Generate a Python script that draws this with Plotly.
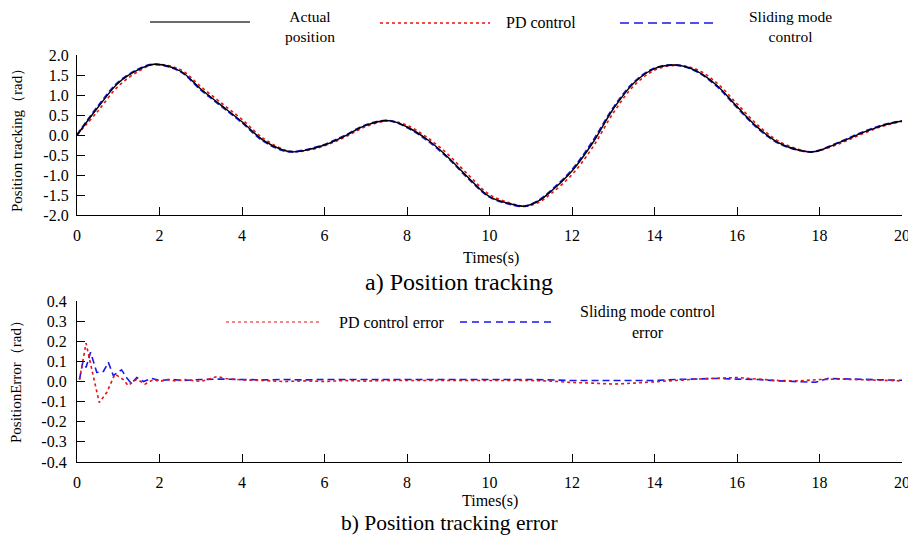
import plotly.graph_objects as go

# ---------------- data ----------------
time_s = [0, 0.5, 1.0, 1.5, 1.88, 2.5, 3.0, 3.5, 4.0, 4.5, 5.0, 5.2, 5.5, 6.0, 6.5,
          7.0, 7.55, 8.0, 8.5, 9.0, 9.5, 10.0, 10.5, 10.85, 11.2, 11.5, 12.0, 12.5,
          13.0, 13.5, 14.0, 14.5, 15.0, 15.5, 16.0, 16.5, 17.0, 17.5, 17.85, 18.5,
          19.0, 19.5, 20.0]
actual_pos = [0.0, 0.68, 1.30, 1.64, 1.77, 1.60, 1.15, 0.74, 0.33, -0.12, -0.38, -0.42,
              -0.39, -0.25, -0.02, 0.24, 0.36, 0.20, -0.12, -0.56, -1.08, -1.54, -1.72,
              -1.78, -1.64, -1.40, -0.90, -0.20, 0.65, 1.30, 1.66, 1.75, 1.61, 1.25,
              0.71, 0.19, -0.19, -0.38, -0.42, -0.18, 0.04, 0.23, 0.35]
pd_pos = [0.0, 0.59, 1.22, 1.60, 1.76, 1.64, 1.21, 0.80, 0.39, -0.07, -0.36, -0.41,
          -0.40, -0.27, -0.05, 0.21, 0.35, 0.24, -0.07, -0.49, -1.01, -1.49, -1.70,
          -1.78, -1.68, -1.46, -0.99, -0.31, 0.55, 1.23, 1.62, 1.74, 1.65, 1.31,
          0.78, 0.25, -0.15, -0.36, -0.42, -0.21, 0.01, 0.21, 0.34]
smc_pos = [0.0, 0.71, 1.32, 1.65, 1.77, 1.59, 1.13, 0.72, 0.31, -0.14, -0.39, -0.42,
           -0.38, -0.24, -0.01, 0.25, 0.36, 0.19, -0.14, -0.58, -1.10, -1.55, -1.73,
           -1.78, -1.63, -1.38, -0.87, -0.16, 0.68, 1.32, 1.67, 1.75, 1.60, 1.23,
           0.69, 0.17, -0.20, -0.38, -0.42, -0.17, 0.05, 0.24, 0.35]

t_pd_err = [0.06, 0.22, 0.38, 0.54, 0.72, 0.92, 1.12, 1.24, 1.45, 1.65,
            1.86, 2.0, 2.2, 2.4, 2.6, 2.8, 3.0, 3.2, 3.4, 3.6,
            3.8, 4.0, 4.5, 5.0, 5.5, 6.0, 6.5, 7.0, 7.5, 8.0,
            8.5, 9.0, 9.5, 10.0, 10.5, 11.0, 11.5, 12.0, 12.5, 13.0,
            13.5, 14.0, 14.5, 15.0, 15.5, 16.0, 16.5, 17.0, 17.5, 18.0,
            18.5, 19.0, 19.5, 20.0]
pd_err = [0.01, 0.19, 0.04, -0.105, -0.055, 0.037, 0.01, -0.02, 0.012, -0.013,
          0.01, 0.0, 0.01, 0.002, 0.01, 0.005, 0.0, 0.012, 0.025, 0.015,
          0.01, 0.008, 0.005, 0.0, 0.003, 0.0, 0.005, 0.002, 0.005, 0.005,
          0.008, 0.005, 0.008, 0.005, 0.008, 0.005, 0.002, -0.005, -0.008, -0.013,
          -0.008, -0.003, 0.005, 0.012, 0.015, 0.02, 0.012, 0.005, 0.003, 0.01,
          0.012, 0.008, 0.005, 0.003]

t_smc_err = [0.06, 0.14, 0.22, 0.33, 0.48, 0.64, 0.76, 0.88, 1.08, 1.2,
             1.32, 1.45, 1.61, 1.81, 2.0, 2.3, 2.6, 3.0, 3.5, 4.0,
             4.5, 5.0, 5.5, 6.0, 7.0, 8.0, 9.0, 10.0, 11.0, 12.0,
             13.0, 14.0, 14.5, 15.0, 15.5, 16.0, 16.5, 17.0, 17.5, 17.9,
             18.2, 18.6, 19.0, 19.5, 20.0]
smc_err = [0.01, 0.095, 0.07, 0.145, 0.045, 0.05, 0.095, 0.03, 0.058, 0.02,
           -0.01, 0.02, 0.0, 0.015, 0.005, 0.01, 0.005, 0.01, 0.012, 0.01,
           0.008, 0.01, 0.008, 0.01, 0.01, 0.008, 0.01, 0.008, 0.01, 0.005,
           0.004, 0.005, 0.01, 0.013, 0.015, 0.012, 0.01, 0.003, 0.0, -0.004,
           0.015, 0.013, 0.01, 0.008, 0.006]

x_ticks = [0, 2, 4, 6, 8, 10, 12, 14, 16, 18, 20]
y1_ticks = [2.0, 1.5, 1.0, 0.5, 0.0, -0.5, -1.0, -1.5, -2.0]
y1_labels = ["2.0", "1.5", "1.0", "0.5", "0.0", "-0.5", "-1.0", "-1.5", "-2.0"]
y2_ticks = [0.4, 0.3, 0.2, 0.1, 0.0, -0.1, -0.2, -0.3, -0.4]
y2_labels = ["0.4", "0.3", "0.2", "0.1", "0.0", "-0.1", "-0.2", "-0.3", "-0.4"]

legend_top = ["Actual<br>position", "PD control", "Sliding mode<br>control"]
legend_bottom = ["PD control error", "Sliding mode control<br>error"]

# ---------------- styling ----------------
# The page body has an 8px default margin: the figure's top-left sits at (8, 8)
# in the window, so the figure is sized to end exactly at the window's right
# and bottom edges.  Placement values below are in window pixels.
OFF = 8
W, H = 916 - OFF, 538 - OFF
FONT = "Liberation Serif"
RED = "rgb(230,20,20)"
BLUE = "rgb(25,25,235)"


def px(x):
    return (x - OFF) / W


def py(y):
    return 1 - (y - OFF) / H


fig = go.Figure()

# top panel
fig.add_trace(go.Scatter(x=time_s, y=pd_pos, mode="lines", line_shape="spline",
                         line=dict(color=RED, width=1.6, dash="dot"),
                         xaxis="x", yaxis="y", showlegend=False))
fig.add_trace(go.Scatter(x=time_s, y=smc_pos, mode="lines", line_shape="spline",
                         line=dict(color=BLUE, width=2, dash="6px,3px"),
                         xaxis="x", yaxis="y", showlegend=False))
fig.add_trace(go.Scatter(x=time_s, y=actual_pos, mode="lines", line_shape="spline",
                         line=dict(color="black", width=1.4),
                         xaxis="x", yaxis="y", showlegend=False))

# bottom panel
fig.add_trace(go.Scatter(x=t_smc_err, y=smc_err, mode="lines",
                         line=dict(color=BLUE, width=1.6, dash="7px,4px"),
                         xaxis="x2", yaxis="y2", showlegend=False))
fig.add_trace(go.Scatter(x=t_pd_err, y=pd_err, mode="lines",
                         line=dict(color=RED, width=1.6, dash="dot"),
                         xaxis="x2", yaxis="y2", showlegend=False))

xdom = [px(77), px(902)]
axis_common = dict(showline=True, linecolor="black", linewidth=1.3, ticks="inside",
                   ticklen=8, tickcolor="black", tickwidth=1.2, showgrid=False,
                   zeroline=False, tickfont=dict(family=FONT, size=16, color="black"),
                   fixedrange=True, automargin=False, ticklabeloverflow="allow")

fig.update_layout(
    width=W, height=H,
    margin=dict(l=0, r=0, t=0, b=0, autoexpand=False),
    paper_bgcolor="white", plot_bgcolor="white",
    font=dict(family=FONT, color="black"),
    xaxis=dict(domain=xdom, anchor="y", range=[0, 20], tickmode="array",
               tickvals=x_ticks, ticklabelstandoff=6, **axis_common),
    yaxis=dict(domain=[py(215), py(55)], anchor="x", range=[-2, 2], tickmode="array",
               tickvals=y1_ticks, ticktext=y1_labels, ticklabelstandoff=4, **axis_common),
    xaxis2=dict(domain=xdom, anchor="y2", range=[0, 20], tickmode="array",
                tickvals=x_ticks, ticklabelstandoff=6, **axis_common),
    yaxis2=dict(domain=[py(462), py(301)], anchor="x2", range=[-0.4, 0.4], tickmode="array",
                tickvals=y2_ticks, ticktext=y2_labels, ticklabelstandoff=6, **axis_common),
)

annotations = []


def text(x, y, s, size, angle=0):
    annotations.append(dict(x=px(x), y=py(y), xref="paper", yref="paper", text=s,
                            showarrow=False, xanchor="center", yanchor="middle",
                            textangle=angle, align="center", borderpad=0,
                            font=dict(family=FONT, size=size, color="black")))


# axis titles and captions
text(17, 137, "Position tracking（rad）", 15, -90)
text(16, 378, "PositionError（rad）", 15, -90)
text(491, 258, "Times(s)", 16)
text(459, 282, "a) Position tracking", 24)
text(490, 501, "Times(s)", 16)
text(449, 523, "b) Position tracking error", 21.5)

# legend texts
text(310, 27, legend_top[0], 15.5)
text(541, 23, legend_top[1], 16)
text(790, 27, legend_top[2], 15.5)
text(392, 322, legend_bottom[0], 16)
text(648, 322, legend_bottom[1], 16)

shapes = [
    dict(type="line", xref="paper", yref="paper", x0=px(150), x1=px(250), y0=py(22), y1=py(22),
         line=dict(color="rgb(60,60,60)", width=1.6)),
    dict(type="line", xref="paper", yref="paper", x0=px(380), x1=px(490), y0=py(23), y1=py(23),
         line=dict(color=RED, width=1.4, dash="dot")),
    dict(type="line", xref="paper", yref="paper", x0=px(620), x1=px(716), y0=py(23), y1=py(23),
         line=dict(color="rgb(80,80,235)", width=2, dash="9px,5px")),
    dict(type="line", xref="paper", yref="paper", x0=px(226), x1=px(320), y0=py(322), y1=py(322),
         line=dict(color=RED, width=1.2, dash="dot")),
    dict(type="line", xref="paper", yref="paper", x0=px(460), x1=px(553), y0=py(322), y1=py(322),
         line=dict(color=BLUE, width=1.4, dash="7px,5px")),
]

fig.update_layout(annotations=annotations, shapes=shapes)

fig.write_html("out.html")
